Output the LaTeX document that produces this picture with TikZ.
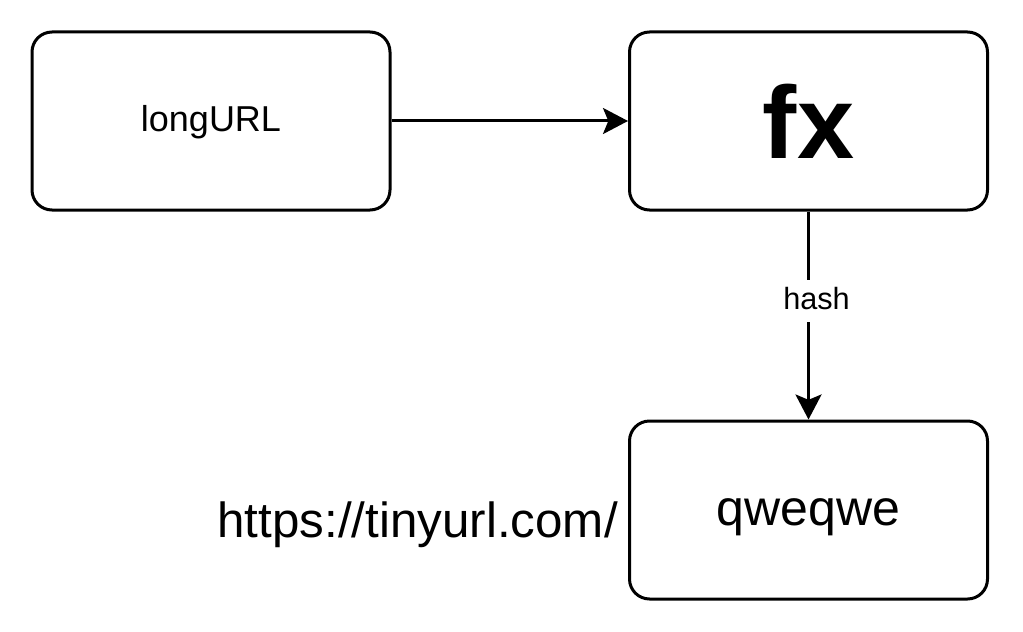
\documentclass[tikz,border=0pt]{standalone}
\usepackage{fontspec}
\setmainfont{Liberation Sans}
\usetikzlibrary{arrows.meta}
\begin{document}
\begin{tikzpicture}[x=0.75pt,y=-0.75pt,
  box/.style={draw, line width=2.25pt, rounded corners=15pt, minimum width=268.5pt, minimum height=133.5pt, inner sep=0pt, align=center},
  arr/.style={line width=2.25pt, -{Stealth[length=18.75pt,width=19.5pt,inset=4pt]}},
  lbl/.style={fill=white, inner xsep=2pt, inner ysep=0pt, text height=22.5pt, text depth=9pt, font=\fontsize{23pt}{26pt}\selectfont}]
\useasboundingbox (0,0) rectangle (1023,631);
\node[box, font=\fontsize{27pt}{30pt}\selectfont, text height=16.5pt, text depth=0pt] (A) at (211,121) {longURL};
\node[box, font=\fontsize{77pt}{80pt}\selectfont\bfseries, text height=55.5pt, text depth=0pt] (B) at (808.5,121) {fx};
\node[box, font=\fontsize{37.5pt}{40pt}\selectfont, text height=22.5pt, text depth=0pt] (C) at (808.5,510) {qweqwe};
\node[inner sep=0pt, anchor=base east, font=\fontsize{37pt}{40pt}\selectfont] (P) at (618,537) {https://tinyurl.com/};
\draw[arr] (A) -- (B);
\draw[arr] (B) -- node[lbl, pos=0.43, xshift=6pt] (H) {hash} (C);
\end{tikzpicture}
\end{document}
